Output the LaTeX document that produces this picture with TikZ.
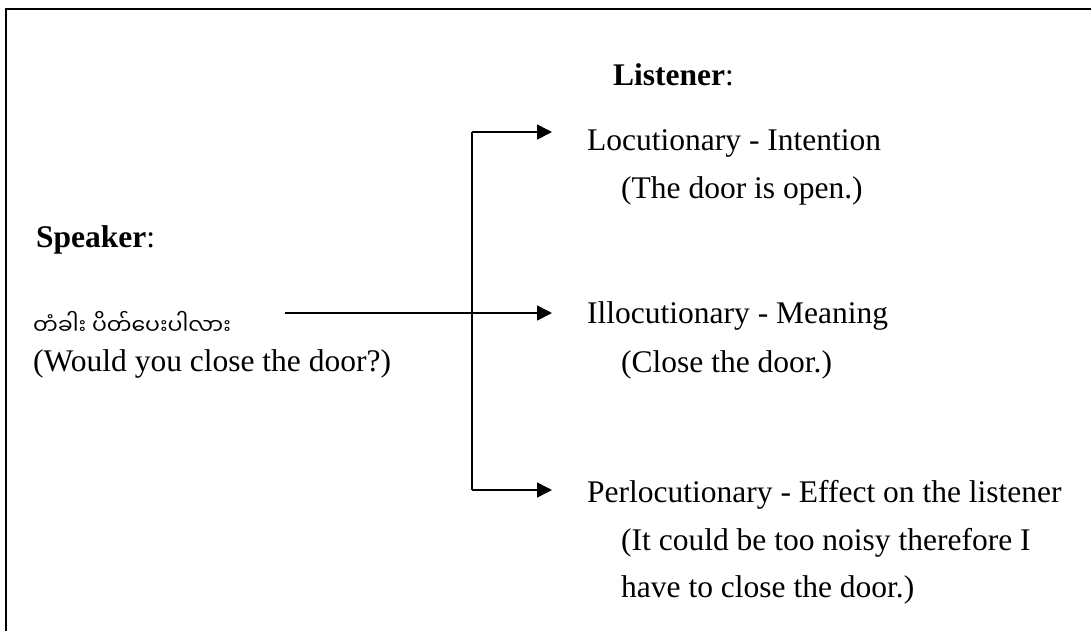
\documentclass[tikz,border=0pt]{standalone}
\usepackage{fontspec}
\setmainfont{Liberation Serif}
\newfontfamily\mmfont[Script=Myanmar]{Noto Sans Myanmar UI}
\usetikzlibrary{arrows.meta}
\begin{document}
\begin{tikzpicture}[x=1pt,y=-1pt,
  txt/.style={anchor=base west,inner sep=0pt,font=\fontsize{31.5}{37}\selectfont},
  link/.style={line width=1.6pt},
  tip/.style={link,-{Triangle[length=15pt,width=15pt]}}]
\useasboundingbox (0,0) rectangle (1091,630);
% open frame, running off the right and bottom edges
\begin{scope}
  \clip (0,0) rectangle (1091,630);
  \draw[line width=2.4pt] (6,9) rectangle (1130,670);
\end{scope}

% speaker side
\node[txt] (speaker) at (36,247) {\textbf{Speaker}:};
\node[txt] (burmese) at (33,334) {\mmfont\fontsize{22}{28}\selectfont တံခါး ပိတ်ပေးပါလား};
\node[txt] (english) at (33,371) {(Would you close the door?)};

% listener side
\node[txt] (listener) at (613,85) {\textbf{Listener}:};
\node[txt] (loc)      at (587,150) {Locutionary - Intention};
\node[txt] (locex)    at (621,198) {(The door is open.)};
\node[txt] (illoc)    at (587,323) {Illocutionary - Meaning};
\node[txt] (illocex)  at (621,372) {(Close the door.)};
\node[txt] (perloc)   at (587,502) {Perlocutionary - Effect on the listener};
\node[txt] (perlocexa) at (621,550) {(It could be too noisy therefore I};
\node[txt] (perlocexb) at (621,597) {have to close the door.)};

% branching connectors
\coordinate (src) at (285,313);
\coordinate (jt)  at (472,132);
\coordinate (jb)  at (472,490);
\coordinate (tt)  at (552,132);
\coordinate (tm)  at (552,313);
\coordinate (tb)  at (552,490);
\draw[tip] (src) -- (tm);
\draw[link] (jt) -- (jb);
\draw[tip] (jt) -- (tt);
\draw[tip] (jb) -- (tb);
\end{tikzpicture}
\end{document}
